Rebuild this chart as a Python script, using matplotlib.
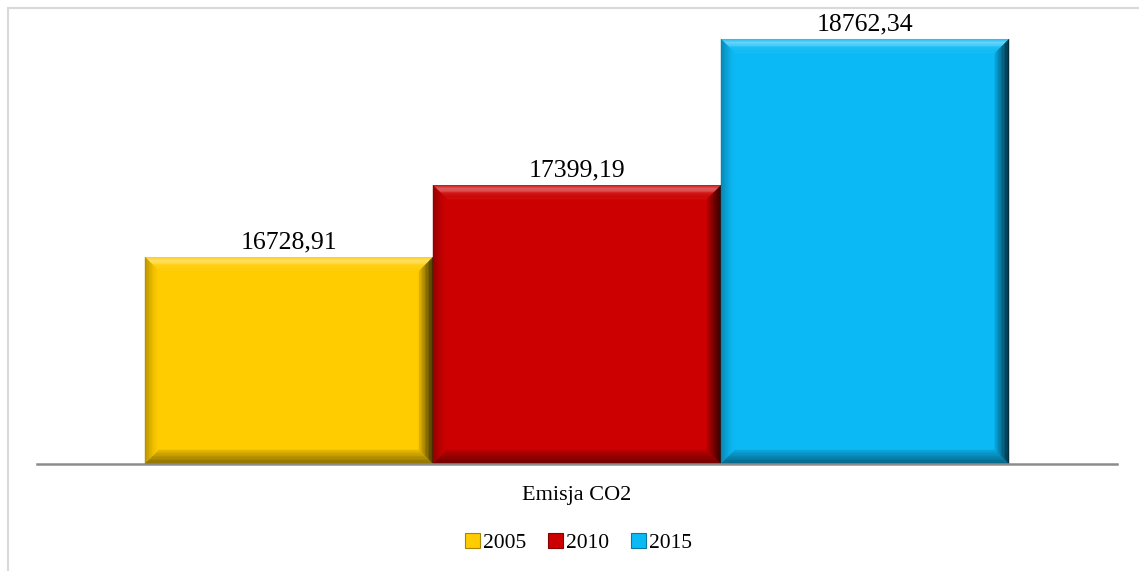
import numpy as np
import matplotlib.pyplot as plt
from matplotlib.patches import Polygon, Rectangle, Patch
from matplotlib.colors import to_rgb

# Dane
kategorie = ['Emisja CO2']
lata = ['2005', '2010', '2015']
wartosci = [16728.91, 17399.19, 18762.34]
etykiety = ['16728,91', '17399,19', '18762,34']
kolory = ['#FFCC00', '#CC0000', '#0BB9F5']

plt.rcParams['font.family'] = ['Liberation Serif', 'DejaVu Serif']

fig = plt.figure(figsize=(11.39, 5.71), dpi=100)
ax = fig.add_axes([37 / 1139, 1 - 464 / 571, 1080 / 1139, 0.7886])

ymin, ymax = 14800, 19000
ax.set_ylim(ymin, ymax)
ax.set_xlim(-0.5, 0.5)

szer = 0.8 / len(lata)


def mix(c, t, amount):
    c = np.array(to_rgb(c))
    t = np.array(to_rgb(t))
    return tuple(c + (t - c) * amount)


def bevel(ax, x0, x1, y0, y1, kolor, bpx=14, n=10):
    # szerokosc skosu w jednostkach danych
    dx = bpx / 1080 * 1.0
    dy = bpx / (0.7886 * 571) * (ymax - ymin)
    ax.add_patch(Rectangle((x0, y0), x1 - x0, y1 - y0, facecolor=kolor, edgecolor='none', zorder=2))
    for j in range(n):
        a = j / n
        b = (j + 1) / n
        f = (j + 0.5) / n  # 0 zewnatrz -> 1 wewnatrz
        o = [(x0 + a * dx, y0 + a * dy), (x1 - a * dx, y0 + a * dy),
             (x1 - a * dx, y1 - a * dy), (x0 + a * dx, y1 - a * dy)]
        i = [(x0 + b * dx, y0 + b * dy), (x1 - b * dx, y0 + b * dy),
             (x1 - b * dx, y1 - b * dy), (x0 + b * dx, y1 - b * dy)]
        gora = mix(kolor, 'white', 0.35 * np.exp(-((f - 0.3) / 0.22) ** 2) + 0.04)
        lewo = mix(kolor, 'black', 0.3 * (1 - f) ** 1.5)
        prawo = mix(kolor, 'black', 0.7 * (1 - f) + 0.1)
        dol = mix(kolor, 'black', 0.4 * (1 - f) + 0.1)
        strony = [
            ([o[3], o[2], i[2], i[3]], gora),
            ([o[0], o[3], i[3], i[0]], lewo),
            ([o[1], o[2], i[2], i[1]], prawo),
            ([o[0], o[1], i[1], i[0]], dol),
        ]
        for pts, c in strony:
            ax.add_patch(Polygon(pts, closed=True, facecolor=c, edgecolor=c,
                                 linewidth=0.3, zorder=3))


for k, (rok, v, et, c) in enumerate(zip(lata, wartosci, etykiety, kolory)):
    x0 = (k - 1) * szer - szer / 2
    bevel(ax, x0, x0 + szer, ymin, v, c)
    ax.annotate(et, (x0 + szer / 2, v), xytext=(0, 2.5), textcoords='offset points',
                ha='center', va='bottom', fontsize=18.5, color='black')

ax.set_xticks([0])
ax.set_xticklabels(kategorie, fontsize=16)
ax.tick_params(axis='x', length=0, pad=16)
ax.set_yticks([])
for s in ['left', 'right', 'top']:
    ax.spines[s].set_visible(False)
ax.spines['bottom'].set_color('#8C8C8C')
ax.spines['bottom'].set_linewidth(1.8)
ax.spines['bottom'].set_zorder(5)

# ramka wykresu
fig.patches.append(Rectangle((8 / 1139, -0.1), 1.2, 1 - 8 / 571 + 0.1,
                             transform=fig.transFigure, facecolor='none',
                             edgecolor='#D9D9D9', linewidth=1.5, zorder=0))

uchwyty = [Patch(facecolor=c, edgecolor=mix(c, 'black', 0.35), linewidth=0.8) for c in kolory]
fig.legend(uchwyty, lata, loc='center', bbox_to_anchor=(0.508, 0.049), ncol=3,
           frameon=False, fontsize=15.5, handlelength=0.7, handleheight=0.7,
           handletextpad=0.15, columnspacing=1.0)

plt.savefig('out.png', dpi=100)
